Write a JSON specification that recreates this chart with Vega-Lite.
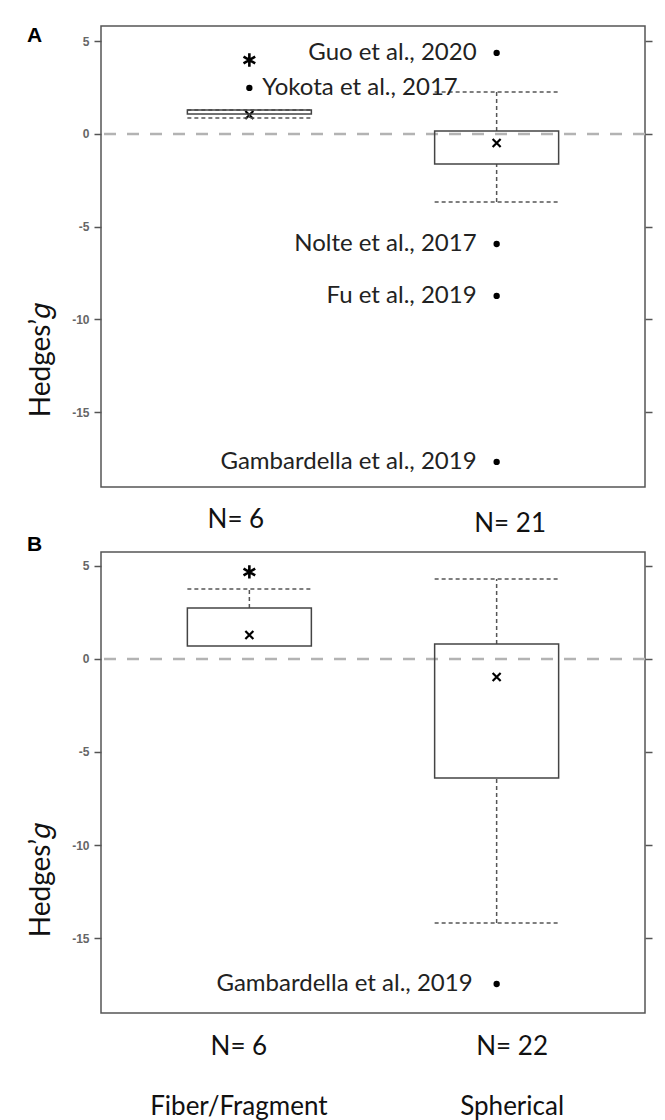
{
  "$schema": "https://vega.github.io/schema/vega-lite/v6.json",
  "autosize": {"type": "none"},
  "padding": {"left": 101, "top": 26, "right": 564, "bottom": 1094},
  "background": "white",
  "datasets": {
    "boxes": [
      {"panel": "A", "group": "Fiber/Fragment", "n": 6, "lower": 0.86, "q1": 1.08, "q3": 1.29, "upper": 1.29, "mean": 1.02},
      {"panel": "A", "group": "Spherical", "n": 21, "lower": -3.67, "q1": -1.62, "q3": 0.16, "upper": 2.26, "mean": -0.49},
      {"panel": "B", "group": "Fiber/Fragment", "n": 6, "lower": 0.7, "q1": 0.7, "q3": 2.74, "upper": 3.76, "mean": 1.29},
      {"panel": "B", "group": "Spherical", "n": 22, "lower": -14.19, "q1": -6.4, "q3": 0.81, "upper": 4.3, "mean": -0.97}
    ],
    "outliers": [
      {"panel": "A", "group": "Fiber/Fragment", "value": 2.48, "study": "Yokota et al., 2017"},
      {"panel": "A", "group": "Spherical", "value": 4.37, "study": "Guo et al., 2020"},
      {"panel": "A", "group": "Spherical", "value": -5.93, "study": "Nolte et al., 2017"},
      {"panel": "A", "group": "Spherical", "value": -8.73, "study": "Fu et al., 2019"},
      {"panel": "A", "group": "Spherical", "value": -17.68, "study": "Gambardella et al., 2019"},
      {"panel": "B", "group": "Spherical", "value": -17.47, "study": "Gambardella et al., 2019"}
    ],
    "stars": [
      {"panel": "A", "group": "Fiber/Fragment", "value": 3.99},
      {"panel": "B", "group": "Fiber/Fragment", "value": 4.68}
    ],
    "zero": [{"ref": 0}]
  },
  "config": {
    "font": "Lato",
    "view": {"stroke": "#555555", "strokeWidth": 1.5},
    "title": {"font": "Liberation Sans", "fontWeight": "bold", "fontSize": 21, "color": "#000000", "anchor": "start", "frame": "group", "offset": 0, "baseline": "alphabetic", "dx": -74},
    "axisX": {"title": null, "domain": false, "ticks": false, "tickSize": 0, "labelAngle": 0, "labelFont": "Lato", "labelFontSize": 26, "labelColor": "#111111", "labelBaseline": "top", "labelLineHeight": 60, "labelPadding": 19}
  },
  "spacing": 65,
  "bounds": "flush",
  "vconcat": [
    {
      "width": 544,
      "height": 461,
      "title": {"text": "A", "dy": 24},
      "resolve": {"axis": {"y": "independent"}},
      "layer": [
        {
          "data": {"name": "zero"},
          "mark": {"type": "rule", "stroke": "#b3b3b3", "strokeWidth": 2.5, "strokeDash": [12, 11]},
          "encoding": {
            "y": {"field": "ref", "type": "quantitative", "scale": {"domain": [-19.03, 5.82], "nice": false, "zero": false},
              "axis": {"orient": "right", "values": [-15, -10, -5, 0, 5], "labels": false, "title": null, "domain": false, "grid": false, "ticks": true, "tickSize": 7, "tickWidth": 1.5, "tickColor": "#555555"}}
          }
        },
        {
          "data": {"name": "boxes"},
          "transform": [{"filter": "datum.panel == 'A'"}],
          "mark": {"type": "point", "shape": "M-1,-1L1,1M-1,1L1,-1", "size": 64, "filled": false, "stroke": "#000000", "strokeWidth": 2.2, "opacity": 1},
          "encoding": {
            "x": {"field": "group", "type": "nominal", "scale": {"type": "point", "padding": 0.6, "domain": ["Fiber/Fragment", "Spherical"]},
              "axis": {"orient": "bottom", "labelExpr": "datum.value == 'Fiber/Fragment' ? 'N= 6' : 'N= 21'",
                "labelOffset": {"condition": {"test": "datum.value == 'Spherical'", "value": 13}, "value": -14},
                "labelPadding": {"condition": {"test": "datum.value == 'Spherical'", "value": 23}, "value": 19}}},
            "y": {"field": "mean", "type": "quantitative", "scale": {"domain": [-19.03, 5.82], "nice": false, "zero": false},
              "axis": {"orient": "left", "values": [-15, -10, -5, 0, 5], "labelExpr": "'' + datum.value", "domain": false, "grid": false, "tickSize": 7, "tickWidth": 1.5, "tickColor": "#555555", "labelFont": "Liberation Sans", "labelFontSize": 12, "labelFontWeight": "bold", "labelColor": "#666666", "labelPadding": 5,
                "title": "Hedges’𝑔", "titleFont": "Lato", "titleFontSize": 28, "titleFontWeight": "normal", "titleColor": "#111111", "titleX": -60, "titleY": 334, "titleAngle": -90, "titleAlign": "center", "titleBaseline": "middle"}}
          }
        },
        {
          "data": {"name": "boxes"},
          "transform": [{"filter": "datum.panel == 'A'"}],
          "mark": {"type": "rule", "stroke": "#555555", "strokeWidth": 1.5, "strokeDash": [4, 3]},
          "encoding": {
            "x": {"field": "group", "type": "nominal", "scale": {"type": "point", "padding": 0.6, "domain": ["Fiber/Fragment", "Spherical"]}},
            "y": {"field": "lower", "type": "quantitative", "scale": {"domain": [-19.03, 5.82], "nice": false, "zero": false}, "axis": null},
            "y2": {"field": "q1"}
          }
        },
        {
          "data": {"name": "boxes"},
          "transform": [{"filter": "datum.panel == 'A'"}],
          "mark": {"type": "rule", "stroke": "#555555", "strokeWidth": 1.5, "strokeDash": [4, 3]},
          "encoding": {
            "x": {"field": "group", "type": "nominal", "scale": {"type": "point", "padding": 0.6, "domain": ["Fiber/Fragment", "Spherical"]}},
            "y": {"field": "q3", "type": "quantitative", "scale": {"domain": [-19.03, 5.82], "nice": false, "zero": false}, "axis": null},
            "y2": {"field": "upper"}
          }
        },
        {
          "data": {"name": "boxes"},
          "transform": [{"filter": "datum.panel == 'A'"}, {"fold": ["lower", "upper"], "as": ["stat", "val"]}],
          "mark": {"type": "rule", "stroke": "#555555", "strokeWidth": 1.5, "strokeDash": [4, 3], "xOffset": -62, "x2Offset": 62},
          "encoding": {
            "x": {"field": "group", "type": "nominal", "scale": {"type": "point", "padding": 0.6, "domain": ["Fiber/Fragment", "Spherical"]}},
            "x2": {"field": "group"},
            "y": {"field": "val", "type": "quantitative", "scale": {"domain": [-19.03, 5.82], "nice": false, "zero": false}, "axis": null}
          }
        },
        {
          "data": {"name": "boxes"},
          "transform": [{"filter": "datum.panel == 'A'"}],
          "mark": {"type": "rect", "fill": "#ffffff", "fillOpacity": 0, "stroke": "#444444", "strokeWidth": 1.5, "xOffset": -62, "x2Offset": 62},
          "encoding": {
            "x": {"field": "group", "type": "nominal", "scale": {"type": "point", "padding": 0.6, "domain": ["Fiber/Fragment", "Spherical"]}},
            "x2": {"field": "group"},
            "y": {"field": "q1", "type": "quantitative", "scale": {"domain": [-19.03, 5.82], "nice": false, "zero": false}, "axis": null},
            "y2": {"field": "q3"}
          }
        },
        {
          "data": {"name": "outliers"},
          "transform": [{"filter": "datum.panel == 'A'"}],
          "mark": {"type": "point", "shape": "circle", "size": 40, "filled": true, "color": "#000000", "opacity": 1},
          "encoding": {
            "x": {"field": "group", "type": "nominal", "scale": {"type": "point", "padding": 0.6, "domain": ["Fiber/Fragment", "Spherical"]}},
            "y": {"field": "value", "type": "quantitative", "scale": {"domain": [-19.03, 5.82], "nice": false, "zero": false}, "axis": null}
          }
        },
        {
          "data": {"name": "outliers"},
          "transform": [{"filter": "datum.panel == 'A' && datum.group == 'Spherical'"}],
          "mark": {"type": "text", "align": "right", "baseline": "middle", "dx": -20, "font": "Lato", "fontSize": 24, "color": "#222222"},
          "encoding": {
            "x": {"field": "group", "type": "nominal", "scale": {"type": "point", "padding": 0.6, "domain": ["Fiber/Fragment", "Spherical"]}},
            "y": {"field": "value", "type": "quantitative", "scale": {"domain": [-19.03, 5.82], "nice": false, "zero": false}, "axis": null},
            "text": {"field": "study"}
          }
        },
        {
          "data": {"name": "outliers"},
          "transform": [{"filter": "datum.panel == 'A' && datum.group == 'Fiber/Fragment'"}],
          "mark": {"type": "text", "align": "left", "baseline": "middle", "dx": 13, "font": "Lato", "fontSize": 24, "color": "#222222"},
          "encoding": {
            "x": {"field": "group", "type": "nominal", "scale": {"type": "point", "padding": 0.6, "domain": ["Fiber/Fragment", "Spherical"]}},
            "y": {"field": "value", "type": "quantitative", "scale": {"domain": [-19.03, 5.82], "nice": false, "zero": false}, "axis": null},
            "text": {"field": "study"}
          }
        },
        {
          "data": {"name": "stars"},
          "transform": [{"filter": "datum.panel == 'A'"}],
          "mark": {"type": "point", "shape": "M0,-1L0,1M-0.87,-0.5L0.87,0.5M-0.87,0.5L0.87,-0.5", "size": 180, "filled": false, "stroke": "#000000", "strokeWidth": 2.6, "opacity": 1},
          "encoding": {
            "x": {"field": "group", "type": "nominal", "scale": {"type": "point", "padding": 0.6, "domain": ["Fiber/Fragment", "Spherical"]}},
            "y": {"field": "value", "type": "quantitative", "scale": {"domain": [-19.03, 5.82], "nice": false, "zero": false}, "axis": null}
          }
        }
      ]
    },
    {
      "width": 544,
      "height": 461,
      "title": {"text": "B", "dy": 7},
      "resolve": {"axis": {"y": "independent"}},
      "layer": [
        {
          "data": {"name": "zero"},
          "mark": {"type": "rule", "stroke": "#b3b3b3", "strokeWidth": 2.5, "strokeDash": [12, 11]},
          "encoding": {
            "y": {"field": "ref", "type": "quantitative", "scale": {"domain": [-19.03, 5.75], "nice": false, "zero": false},
              "axis": {"orient": "right", "values": [-15, -10, -5, 0, 5], "labels": false, "title": null, "domain": false, "grid": false, "ticks": true, "tickSize": 7, "tickWidth": 1.5, "tickColor": "#555555"}}
          }
        },
        {
          "data": {"name": "boxes"},
          "transform": [{"filter": "datum.panel == 'B'"}],
          "mark": {"type": "point", "shape": "M-1,-1L1,1M-1,1L1,-1", "size": 64, "filled": false, "stroke": "#000000", "strokeWidth": 2.2, "opacity": 1},
          "encoding": {
            "x": {"field": "group", "type": "nominal", "scale": {"type": "point", "padding": 0.6, "domain": ["Fiber/Fragment", "Spherical"]},
              "axis": {"orient": "bottom", "labelPadding": 20,
                "labelExpr": "datum.value == 'Fiber/Fragment' ? ['N= 6', 'Fiber/Fragment'] : ['N= 22', 'Spherical']",
                "labelOffset": {"condition": {"test": "datum.value == 'Spherical'", "value": 15}, "value": -11}}},
            "y": {"field": "mean", "type": "quantitative", "scale": {"domain": [-19.03, 5.75], "nice": false, "zero": false},
              "axis": {"orient": "left", "values": [-15, -10, -5, 0, 5], "labelExpr": "'' + datum.value", "domain": false, "grid": false, "tickSize": 7, "tickWidth": 1.5, "tickColor": "#555555", "labelFont": "Liberation Sans", "labelFontSize": 12, "labelFontWeight": "bold", "labelColor": "#666666", "labelPadding": 5,
                "title": "Hedges’𝑔", "titleFont": "Lato", "titleFontSize": 28, "titleFontWeight": "normal", "titleColor": "#111111", "titleX": -60, "titleY": 328, "titleAngle": -90, "titleAlign": "center", "titleBaseline": "middle"}}
          }
        },
        {
          "data": {"name": "boxes"},
          "transform": [{"filter": "datum.panel == 'B'"}],
          "mark": {"type": "rule", "stroke": "#555555", "strokeWidth": 1.5, "strokeDash": [4, 3]},
          "encoding": {
            "x": {"field": "group", "type": "nominal", "scale": {"type": "point", "padding": 0.6, "domain": ["Fiber/Fragment", "Spherical"]}},
            "y": {"field": "lower", "type": "quantitative", "scale": {"domain": [-19.03, 5.75], "nice": false, "zero": false}, "axis": null},
            "y2": {"field": "q1"}
          }
        },
        {
          "data": {"name": "boxes"},
          "transform": [{"filter": "datum.panel == 'B'"}],
          "mark": {"type": "rule", "stroke": "#555555", "strokeWidth": 1.5, "strokeDash": [4, 3]},
          "encoding": {
            "x": {"field": "group", "type": "nominal", "scale": {"type": "point", "padding": 0.6, "domain": ["Fiber/Fragment", "Spherical"]}},
            "y": {"field": "q3", "type": "quantitative", "scale": {"domain": [-19.03, 5.75], "nice": false, "zero": false}, "axis": null},
            "y2": {"field": "upper"}
          }
        },
        {
          "data": {"name": "boxes"},
          "transform": [{"filter": "datum.panel == 'B'"}, {"fold": ["lower", "upper"], "as": ["stat", "val"]}, {"filter": "!(datum.group == 'Fiber/Fragment' && datum.stat == 'lower')"}],
          "mark": {"type": "rule", "stroke": "#555555", "strokeWidth": 1.5, "strokeDash": [4, 3], "xOffset": -62, "x2Offset": 62},
          "encoding": {
            "x": {"field": "group", "type": "nominal", "scale": {"type": "point", "padding": 0.6, "domain": ["Fiber/Fragment", "Spherical"]}},
            "x2": {"field": "group"},
            "y": {"field": "val", "type": "quantitative", "scale": {"domain": [-19.03, 5.75], "nice": false, "zero": false}, "axis": null}
          }
        },
        {
          "data": {"name": "boxes"},
          "transform": [{"filter": "datum.panel == 'B'"}],
          "mark": {"type": "rect", "fill": "#ffffff", "fillOpacity": 0, "stroke": "#444444", "strokeWidth": 1.5, "xOffset": -62, "x2Offset": 62},
          "encoding": {
            "x": {"field": "group", "type": "nominal", "scale": {"type": "point", "padding": 0.6, "domain": ["Fiber/Fragment", "Spherical"]}},
            "x2": {"field": "group"},
            "y": {"field": "q1", "type": "quantitative", "scale": {"domain": [-19.03, 5.75], "nice": false, "zero": false}, "axis": null},
            "y2": {"field": "q3"}
          }
        },
        {
          "data": {"name": "outliers"},
          "transform": [{"filter": "datum.panel == 'B'"}],
          "mark": {"type": "point", "shape": "circle", "size": 40, "filled": true, "color": "#000000", "opacity": 1},
          "encoding": {
            "x": {"field": "group", "type": "nominal", "scale": {"type": "point", "padding": 0.6, "domain": ["Fiber/Fragment", "Spherical"]}},
            "y": {"field": "value", "type": "quantitative", "scale": {"domain": [-19.03, 5.75], "nice": false, "zero": false}, "axis": null}
          }
        },
        {
          "data": {"name": "outliers"},
          "transform": [{"filter": "datum.panel == 'B'"}],
          "mark": {"type": "text", "align": "right", "baseline": "middle", "dx": -24, "font": "Lato", "fontSize": 24, "color": "#222222"},
          "encoding": {
            "x": {"field": "group", "type": "nominal", "scale": {"type": "point", "padding": 0.6, "domain": ["Fiber/Fragment", "Spherical"]}},
            "y": {"field": "value", "type": "quantitative", "scale": {"domain": [-19.03, 5.75], "nice": false, "zero": false}, "axis": null},
            "text": {"field": "study"}
          }
        },
        {
          "data": {"name": "stars"},
          "transform": [{"filter": "datum.panel == 'B'"}],
          "mark": {"type": "point", "shape": "M0,-1L0,1M-0.87,-0.5L0.87,0.5M-0.87,0.5L0.87,-0.5", "size": 180, "filled": false, "stroke": "#000000", "strokeWidth": 2.6, "opacity": 1},
          "encoding": {
            "x": {"field": "group", "type": "nominal", "scale": {"type": "point", "padding": 0.6, "domain": ["Fiber/Fragment", "Spherical"]}},
            "y": {"field": "value", "type": "quantitative", "scale": {"domain": [-19.03, 5.75], "nice": false, "zero": false}, "axis": null}
          }
        }
      ]
    }
  ]
}
